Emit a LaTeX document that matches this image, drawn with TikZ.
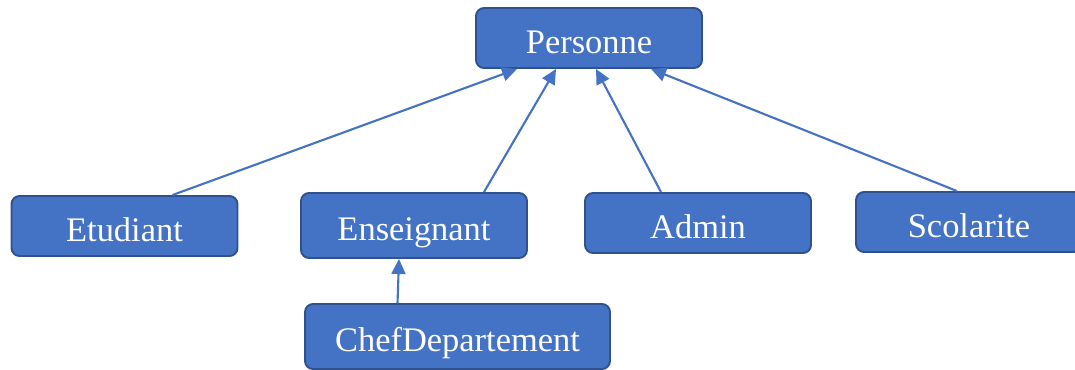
\documentclass[tikz,border=0pt]{standalone}
\usepackage{fontspec}
\setmainfont{Liberation Serif}
\usetikzlibrary{positioning,arrows.meta}

\definecolor{boxblue}{HTML}{4472C4}
\definecolor{boxedge}{HTML}{2F528F}

\tikzset{
    classbox/.style={rectangle, draw=boxedge, line width=1.1pt, rounded corners=0.16cm,
        fill=boxblue, text=white, minimum width=4.52cm, minimum height=1.2cm,
        text height=0.6cm, text depth=0cm,
        font=\fontsize{19.6}{24}\selectfont},
    inherit/.style={-{Triangle[length=0.3cm, width=0.28cm]}, draw=boxblue, line width=1.2pt}
}

\begin{document}
\begin{tikzpicture}[x=0.02cm, y=-0.02cm]
    \useasboundingbox (0,0) rectangle (1075,369);

    % Base class
    \node[classbox] (personne) at (589,38) {Personne};

    % Derived classes
    \node[classbox] (etudiant) at (124.5,226) {Etudiant};
    \node[classbox, minimum height=1.3cm] (enseignant) at (414,225.5) {Enseignant};
    \node[classbox] (admin) at (698,223) {Admin};
    \node[classbox] (scolarite) at (969,222) {Scolarite};
    \node[classbox, minimum width=6.1cm, minimum height=1.3cm] (chef) at (457.5,336.5) {ChefDepartement};

    % Inheritance links
    \draw[inherit] ([xshift=0.96cm]etudiant.north) -- ([xshift=-1.44cm]personne.south);
    \draw[inherit] ([xshift=1.4cm]enseignant.north) -- ([xshift=-0.66cm]personne.south);
    \draw[inherit] ([xshift=-0.74cm]admin.north) -- ([xshift=0.14cm]personne.south);
    \draw[inherit] ([xshift=-0.24cm]scolarite.north) -- ([xshift=1.24cm]personne.south);
    \draw[inherit] ([xshift=-1.2cm]chef.north) -- ([xshift=-0.3cm]enseignant.south);
\end{tikzpicture}
\end{document}
